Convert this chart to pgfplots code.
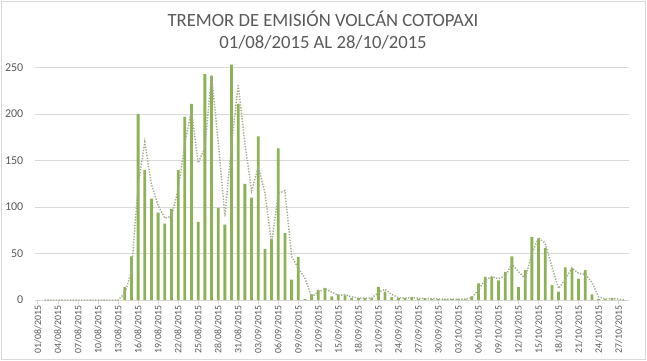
\documentclass[border=0pt]{standalone}
\usepackage{pgfplots}
\pgfplotsset{compat=1.18}
\usepackage{pgfplotstable}
\usepackage{fontspec}
\setmainfont{Carlito}
\definecolor{bargreen}{HTML}{8DB255}
\definecolor{magray}{HTML}{A3AD90}
\definecolor{txtgray}{HTML}{595959}
\definecolor{gridgray}{HTML}{D9D9D9}

\pgfplotstableread{
x v
0 0
1 0
2 0
3 0
4 0
5 0
6 0
7 0
8 0
9 0
10 0
11 0
12 0
13 14
14 47
15 200
16 140
17 109
18 94
19 82
20 98
21 140
22 197
23 211
24 84
25 243
26 241
27 99
28 81
29 253
30 211
31 125
32 110
33 176
34 55
35 66
36 163
37 72
38 22
39 46
40 1
41 6
42 11
43 13
44 4
45 6
46 5
47 2
48 2
49 2
50 2
51 14
52 9
53 3
54 2
55 2
56 3
57 1
58 2
59 1
60 1
61 1
62 1
63 1
64 1
65 4
66 18
67 25
68 25
69 21
70 30
71 47
72 14
73 32
74 68
75 66
76 56
77 16
78 9
79 35
80 34
81 23
82 32
83 6
84 1
85 1
86 2
87 0
88 0
}\bardata

\pgfplotstableread{
x m
1 0
2 0
3 0
4 0
5 0
6 0
7 0
8 0
9 0
10 0
11 0
12 0
13 7
14 30.5
15 123.5
16 170
17 124.5
18 101.5
19 88
20 90
21 119
22 168.5
23 204
24 147.5
25 163.5
26 242
27 170
28 90
29 167
30 232
31 168
32 117.5
33 143
34 115.5
35 60.5
36 114.5
37 117.5
38 47
39 34
40 23.5
41 3.5
42 8.5
43 12
44 8.5
45 5
46 5.5
47 3.5
48 2
49 2
50 2
51 8
52 11.5
53 6
54 2.5
55 2
56 2.5
57 2
58 1.5
59 1.5
60 1
61 1
62 1
63 1
64 1
65 2.5
66 11
67 21.5
68 25
69 23
70 25.5
71 38.5
72 30.5
73 23
74 50
75 67
76 61
77 36
78 12.5
79 22
80 34.5
81 28.5
82 27.5
83 19
84 3.5
85 1
86 1.5
87 1
88 0
}\madata

\begin{document}
\begin{tikzpicture}
\path[use as bounding box] (-28.5pt,-45.75pt) rectangle (456.75pt,225pt);
\draw[gridgray, line width=0.75pt] (-27.5pt,-44.5pt) rectangle (455.5pt,224pt);
\node[text=txtgray, font=\fontsize{14pt}{17pt}\selectfont, align=center] at (213.75pt,202.5pt)
  {TREMOR DE EMISIÓN VOLCÁN COTOPAXI\\01/08/2015 AL 28/10/2015};
\begin{axis}[
  at={(0pt,0pt)}, anchor=origin,
  scale only axis,
  width=445.5pt, height=181.35pt,
  xmin=-0.5, xmax=88.5,
  ymin=0, ymax=260,
  axis x line*=bottom,
  axis y line*=left,
  y axis line style={draw=none},
  x axis line style={draw=gridgray, line width=0.75pt},
  ytick={0,50,100,150,200,250},
  ymajorgrids,
  grid style={gridgray, line width=0.75pt},
  major y tick style={draw=none},
  xtick={0,3,...,87},
  xticklabels={01/08/2015,04/08/2015,07/08/2015,10/08/2015,13/08/2015,16/08/2015,19/08/2015,22/08/2015,25/08/2015,28/08/2015,31/08/2015,03/09/2015,06/09/2015,09/09/2015,12/09/2015,15/09/2015,18/09/2015,21/09/2015,24/09/2015,27/09/2015,30/09/2015,03/10/2015,06/10/2015,09/10/2015,12/10/2015,15/10/2015,18/10/2015,21/10/2015,24/10/2015,27/10/2015},
  x tick label style={rotate=90, anchor=east, font=\fontsize{7.4pt}{8pt}\selectfont, text=txtgray, inner sep=1pt},
  y tick label style={font=\fontsize{9pt}{10pt}\selectfont, text=txtgray},
  major x tick style={draw=gridgray, line width=0.75pt},
  xtick align=outside,
  major tick length=3pt,
  /pgf/number format/assume math mode=true,
  yticklabel style={xshift=-5pt},
  clip=false,
]
\addplot[ybar, bar width=2.1pt, fill=bargreen, draw=none] table[x=x, y=v] {\bardata};
\addplot[magray, line width=1.1pt, dash pattern=on 1pt off 1.1pt, mark=none] table[x=x, y=m] {\madata};
\end{axis}
\end{tikzpicture}
\end{document}
